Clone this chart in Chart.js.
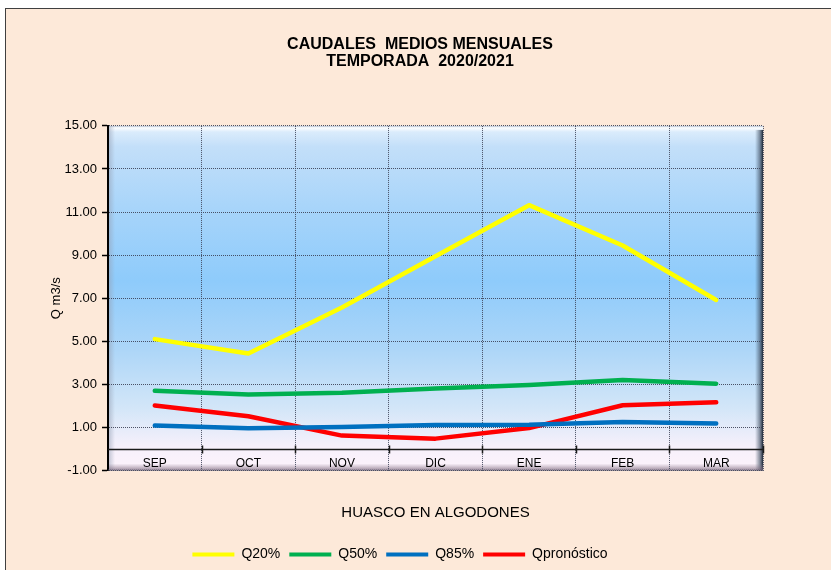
<!DOCTYPE html>
<html><head><meta charset="utf-8">
<script src="https://cdn.jsdelivr.net/npm/chart.js@4/dist/chart.umd.min.js"></script>
<style>
html,body{margin:0;padding:0;background:#fff;overflow:hidden;width:831px;height:570px}
#frame{position:absolute;left:5px;top:8px;width:830px;height:572px;background:#FDE9D9;border:1px solid #404040;box-sizing:border-box}
#c{position:absolute;left:0;top:0}
</style></head><body>
<div id="frame"><canvas id="c" width="828" height="570"></canvas></div>
<script>
const titleLines = ['CAUDALES  MEDIOS MENSUALES', 'TEMPORADA  2020/2021'];
const xAxisTitle = 'HUASCO EN ALGODONES';
const yAxisTitle = 'Q m3/s';
const months = ['SEP', 'OCT', 'NOV', 'DIC', 'ENE', 'FEB', 'MAR'];
const q20 = [5.10, 4.43, 6.57, 8.95, 11.32, 9.45, 6.92];
const q50 = [2.70, 2.53, 2.61, 2.81, 2.97, 3.20, 3.03];
const q85 = [1.09, 0.96, 1.02, 1.11, 1.13, 1.25, 1.18];
const qpron = [2.02, 1.52, 0.62, 0.48, 0.97, 2.03, 2.17];
const yMin = -1, yMax = 15, yStep = 2;

const FONT = '"Liberation Sans", Arial, sans-serif';
const GRID = 'rgba(60,65,85,0.9)';

const plotDeco = {
  id: 'plotDeco',
  beforeDraw(chart) {
    const {ctx, chartArea: a} = chart;
    ctx.save();
    const g = ctx.createLinearGradient(0, a.top, 0, a.bottom);
    g.addColorStop(0, '#e4f1fd');
    g.addColorStop(0.06, '#c3dff9');
    g.addColorStop(0.25, '#a6d4fa');
    g.addColorStop(0.45, '#8ecbfb');
    g.addColorStop(0.65, '#add6f8');
    g.addColorStop(0.82, '#d3e6f8');
    g.addColorStop(0.93, '#f6f0fb');
    g.addColorStop(1, '#fdf3fb');
    ctx.fillStyle = g;
    ctx.fillRect(a.left, a.top, a.right - a.left, a.bottom - a.top);
    const gt = ctx.createLinearGradient(0, a.top, 0, a.top + 6);
    gt.addColorStop(0, 'rgba(170,185,205,0.9)');
    gt.addColorStop(0.3, 'rgba(255,255,255,0.9)');
    gt.addColorStop(1, 'rgba(255,255,255,0)');
    ctx.fillStyle = gt;
    ctx.fillRect(a.left, a.top, a.right - a.left, 6);
    const gl = ctx.createLinearGradient(a.left, 0, a.left + 7, 0);
    gl.addColorStop(0, 'rgba(150,160,180,0.6)');
    gl.addColorStop(1, 'rgba(150,160,180,0)');
    ctx.fillStyle = gl;
    ctx.fillRect(a.left, a.top, 7, a.bottom - a.top);
    const gr = ctx.createLinearGradient(a.right - 8, 0, a.right, 0);
    gr.addColorStop(0, 'rgba(60,80,100,0)');
    gr.addColorStop(0.6, 'rgba(60,75,95,0.6)');
    gr.addColorStop(1, 'rgba(30,40,55,1)');
    ctx.fillStyle = gr;
    ctx.fillRect(a.right - 8, a.top + 4, 8, a.bottom - a.top - 4);
    const gb = ctx.createLinearGradient(0, a.bottom - 7, 0, a.bottom);
    gb.addColorStop(0, 'rgba(140,120,140,0)');
    gb.addColorStop(1, 'rgba(120,100,120,0.75)');
    ctx.fillStyle = gb;
    ctx.fillRect(a.left, a.bottom - 7, a.right - a.left, 7);
    ctx.restore();
  },
  beforeDatasetsDraw(chart) {
    const {ctx, chartArea: a, scales} = chart;
    const y0 = Math.round(scales.y.getPixelForValue(0)) + 0.5;
    ctx.save();
    ctx.strokeStyle = '#1a1a1a';
    ctx.lineWidth = 1.5;
    ctx.beginPath();
    ctx.moveTo(a.left, y0);
    ctx.lineTo(a.right, y0);
    const n = months.length;
    for (let i = 1; i <= n; i++) {
      const x = Math.round(scales.x.getPixelForValue(i - 0.5)) + 0.5;
      ctx.moveTo(x, y0 - 4);
      ctx.lineTo(x, y0 + 4);
    }
    ctx.stroke();
    ctx.setLineDash([1, 1]);
    ctx.strokeStyle = 'rgba(90,90,110,0.8)';
    ctx.lineWidth = 1;
    ctx.beginPath();
    ctx.moveTo(a.left, a.bottom - 0.5);
    ctx.lineTo(a.right, a.bottom - 0.5);
    ctx.stroke();
    ctx.restore();
  },
  afterLayout(chart) {
    if (chart.legend) {
      chart.legend.left -= 20;
      chart.legend.right -= 20;
    }
  }
};

const mk = (label, data, color) => ({
  label, data, borderColor: color, backgroundColor: color,
  borderWidth: 4.5, pointRadius: 0, pointHoverRadius: 0, tension: 0,
  borderCapStyle: 'round', borderJoinStyle: 'round', fill: false
});

new Chart(document.getElementById('c'), {
  type: 'line',
  data: {
    labels: months,
    datasets: [
      mk('Q20%', q20, '#FFFF00'),
      mk('Q50%', q50, '#00B050'),
      mk('Q85%', q85, '#0070C0'),
      mk('Qpronóstico', qpron, '#FF0000')
    ]
  },
  options: {
    responsive: false,
    animation: false,
    events: [],
    layout: { padding: { left: 0, right: 0, top: 0, bottom: 7.5 } },
    plugins: {
      title: {
        display: true, text: titleLines, color: '#000',
        font: { family: FONT, size: 16, weight: 'bold', lineHeight: 1.06 },
        padding: { top: 27.5, bottom: 55.5 }
      },
      legend: {
        display: true, position: 'bottom',
        labels: {
          color: '#000', font: { family: FONT, size: 14 },
          boxWidth: 42, boxHeight: 4, padding: 9,
          generateLabels(chart) {
            const items = Chart.defaults.plugins.legend.labels.generateLabels(chart);
            items.forEach(it => { it.lineWidth = 0; it.strokeStyle = 'rgba(0,0,0,0)'; });
            return items;
          }
        }
      },
      tooltip: { enabled: false }
    },
    scales: {
      x: {
        type: 'category',
        offset: true,
        grid: { display: true, offset: true, drawTicks: false, color: GRID, lineWidth: 1 },
        border: { display: false, dash: [1, 1] },
        ticks: { color: '#000', font: { family: FONT, size: 12 }, padding: 0, mirror: true, maxRotation: 0, autoSkip: false },
        title: { display: true, text: xAxisTitle, color: '#000', font: { family: FONT, size: 15, lineHeight: 1.2 }, padding: { top: 0, bottom: 17 } },
        afterFit(s) { s.height = 68; }
      },
      y: {
        type: 'linear', position: 'left', min: yMin, max: yMax,
        grid: { color: GRID, lineWidth: 1, drawTicks: true, tickLength: 6, tickColor: '#000', tickWidth: 1.5 },
        border: { display: true, color: '#000', width: 2, dash: [1, 1] },
        ticks: { stepSize: yStep, color: '#000', font: { family: FONT, size: 13 }, padding: 5,
          callback: v => Number(v).toFixed(2) },
        title: { display: true, text: yAxisTitle, color: '#000', font: { family: FONT, size: 13, lineHeight: 1.2 }, padding: { top: 43, bottom: 0 } },
        afterFit(s) { s.width = 102; }
      },
      yR: {
        type: 'linear', position: 'right', display: true,
        grid: { display: false, drawTicks: false }, border: { display: false },
        ticks: { display: false },
        afterFit(s) { s.width = 71; }
      }
    }
  },
  plugins: [plotDeco]
});
</script>
</body></html>
